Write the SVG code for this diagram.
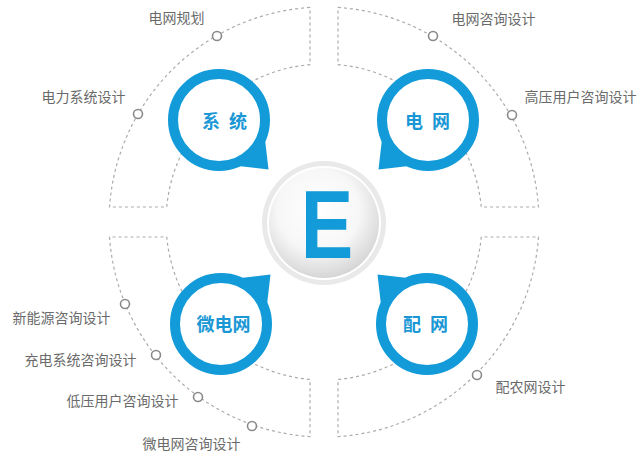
<svg xmlns="http://www.w3.org/2000/svg" width="639" height="455" viewBox="0 0 639 455">
<style>
.sector{fill:none;stroke:#ababab;stroke-width:1.2;stroke-dasharray:3 3}
.dot{fill:#fff;stroke:#8a8a8a;stroke-width:1.6}
.lbl{font-family:"Noto Sans CJK SC","Noto Sans",sans-serif;font-size:14px;fill:#6a6a6a}
.ring{fill:#fff;stroke:#129bd8;stroke-width:10}
.tail{fill:#129bd8}
.btxt{font-family:"Noto Sans CJK SC","Noto Sans",sans-serif;font-size:18px;font-weight:bold;fill:#1a97d5}
</style>
<defs>
<radialGradient id="ball" cx="0.45" cy="0.38" r="0.62">
<stop offset="0" stop-color="#ffffff"/>
<stop offset="0.6" stop-color="#f7f7f7"/>
<stop offset="1" stop-color="#d6d6d6"/>
</radialGradient>
<polygon id="tailShape" points="70,0 41,-23 41,23"/>
</defs>
<rect width="639" height="455" fill="#fff"/>
<g id="connectors">
<path class="sector" d="M310 7.46 A215 215 0 0 0 109.52 207 L166.71 207 A158 158 0 0 1 310 64.62 Z"/>
<path class="sector" d="M338 7.46 A215 215 0 0 1 538.48 207 L481.29 207 A158 158 0 0 0 338 64.62 Z"/>
<path class="sector" d="M109.52 237 A215 215 0 0 0 310 436.54 L310 379.38 A158 158 0 0 1 166.71 237 Z"/>
<path class="sector" d="M538.48 237 A215 215 0 0 1 338 436.54 L338 379.38 A158 158 0 0 0 481.29 237 Z"/>
</g>
<g id="center-E">
<circle cx="324" cy="223" r="62" fill="#e9e9e9"/>
<circle cx="324" cy="223" r="57" fill="#fff"/>
<circle cx="324" cy="223" r="55" fill="url(#ball)"/>
<text transform="translate(327,258) scale(0.82,1)" x="0" y="0" text-anchor="middle" font-family="'Liberation Sans',Arial,sans-serif" font-weight="bold" font-size="96" fill="#129bd8">E</text>
</g>
<g id="node-xitong">
<use href="#tailShape" class="tail" transform="translate(219,120) rotate(45)"/>
<circle class="ring" cx="219" cy="120" r="46"/>
<text class="btxt" x="202" y="128" letter-spacing="2.5">系 统</text>
</g>
<g id="node-dianwang">
<use href="#tailShape" class="tail" transform="translate(428,120) rotate(135)"/>
<circle class="ring" cx="428" cy="120" r="46"/>
<text class="btxt" x="405" y="128" letter-spacing="2.5">电 网</text>
</g>
<g id="node-weidianwang">
<use href="#tailShape" class="tail" transform="translate(221,324) rotate(-45)"/>
<circle class="ring" cx="221" cy="324" r="46"/>
<text class="btxt" x="223.5" y="331" text-anchor="middle">微电网</text>
</g>
<g id="node-peiwang">
<use href="#tailShape" class="tail" transform="translate(427,324) rotate(-135)"/>
<circle class="ring" cx="427" cy="324" r="46"/>
<text class="btxt" x="403" y="331" letter-spacing="2.5">配 网</text>
</g>
<g id="item-dianwangguihua">
<circle class="dot" cx="217" cy="36" r="4.5"/>
<text class="lbl" x="148.5" y="23">电网规划</text>
</g>
<g id="item-dianlixitongsheji">
<circle class="dot" cx="138" cy="114" r="4.5"/>
<text class="lbl" x="41.5" y="102">电力系统设计</text>
</g>
<g id="item-dianwangzixun">
<circle class="dot" cx="433" cy="36" r="4.5"/>
<text class="lbl" x="451.5" y="23.5">电网咨询设计</text>
</g>
<g id="item-gaoya">
<circle class="dot" cx="512" cy="115" r="4.5"/>
<text class="lbl" x="524.5" y="102">高压用户咨询设计</text>
</g>
<g id="item-xinnengyuan">
<circle class="dot" cx="125" cy="304" r="4.5"/>
<text class="lbl" x="12.5" y="322.5">新能源咨询设计</text>
</g>
<g id="item-chongdian">
<circle class="dot" cx="156" cy="355" r="4.5"/>
<text class="lbl" x="24.5" y="364.5">充电系统咨询设计</text>
</g>
<g id="item-diya">
<circle class="dot" cx="198" cy="397" r="4.5"/>
<text class="lbl" x="66.5" y="406">低压用户咨询设计</text>
</g>
<g id="item-weidianwangzixun">
<circle class="dot" cx="252" cy="426" r="4.5"/>
<text class="lbl" x="142.5" y="449">微电网咨询设计</text>
</g>
<g id="item-peinongwang">
<circle class="dot" cx="477" cy="375" r="4.5"/>
<text class="lbl" x="495.5" y="392">配农网设计</text>
</g>
</svg>
